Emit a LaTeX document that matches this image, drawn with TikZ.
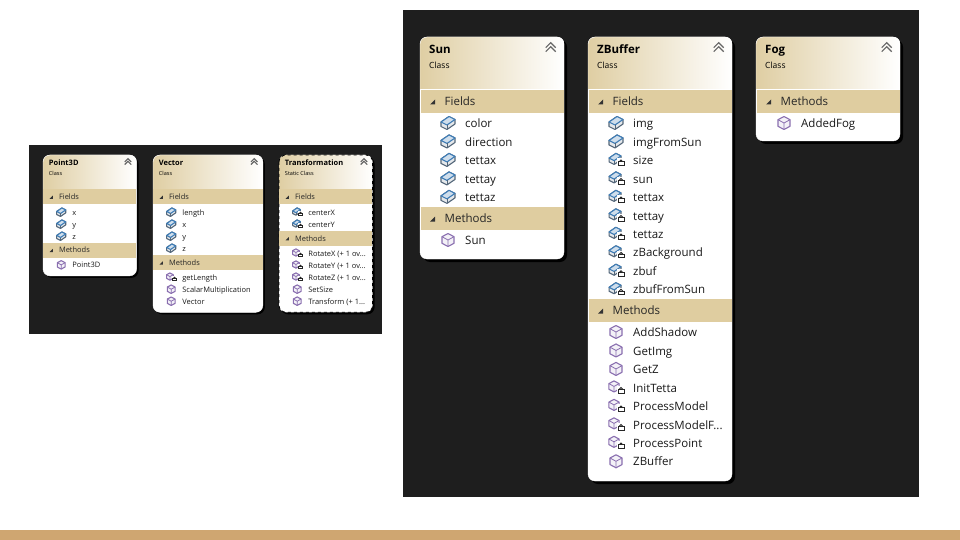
\documentclass[tikz,border=0pt]{standalone}
\usepackage{fontspec}
\setmainfont{Open Sans}
\usetikzlibrary{calc}

\definecolor{panelbg}{HTML}{1E1E1E}
\definecolor{bandtan}{HTML}{DFCDA0}
\definecolor{footbar}{HTML}{CFA671}
\definecolor{headtan}{HTML}{DFCEA3}
\definecolor{fieldblue}{HTML}{3E7CB5}
\definecolor{fieldgrey}{HTML}{54677A}
\definecolor{methpurple}{HTML}{8A6FB0}

\tikzset{
  rowtext/.style={anchor=west,inner sep=0pt,text height=9.5pt,text depth=1.5pt,font=\fontsize{11.5}{13}\selectfont,text=black!90},
  bandtext/.style={anchor=west,inner sep=0pt,text height=9.5pt,text depth=1.5pt,font=\fontsize{11.5}{13}\selectfont,text=black!85},
  titletext/.style={anchor=west,inner sep=0pt,text height=9.5pt,text depth=1.5pt,font=\fontsize{11.5}{13}\selectfont\bfseries},
  subtext/.style={anchor=west,inner sep=0pt,text height=6.5pt,text depth=1.5pt,font=\fontsize{8.5}{10}\selectfont},
  pics/lockmark/.style={code={
    \fill[white] (-0.8,-1) rectangle (7,7);
    \draw[black!85,line width=0.9pt] (1.2,2.4) arc (180:360:1.8);
    \draw[black!85,line width=1pt,fill=white] (0,2.4) rectangle (6,6.2);
  }},
  pics/fieldpub/.style={code={
    \draw[fieldgrey,line width=1.1pt,fill=fieldgrey!15,line join=round]
      (-7,-1) -- (1,-6.5) -- (7,-3.5) -- (7,1) -- (-1,6.5) -- (-7,3.5) -- cycle;
    \draw[fieldblue,line width=1.1pt,fill=fieldblue!25,line join=round]
      (-7,-1) -- (1,-6.5) -- (7,-3.5) -- (-1,2) -- cycle;
    \draw[fieldgrey,line width=0.8pt] (-1,2) -- (-1,6.5);
  }},
  pics/methpub/.style={code={
    \draw[methpurple,line width=1.1pt,fill=methpurple!10,line join=round]
      (0,-6.5) -- (6,-3.3) -- (6,3.3) -- (0,6.5) -- (-6,3.3) -- (-6,-3.3) -- cycle;
    \draw[methpurple,line width=0.8pt,line join=round] (-6,-3.3) -- (0,0) -- (6,-3.3) (0,0) -- (0,6.5);
  }},
  pics/fieldpriv/.style={code={
    \pic[shift={(-1,-1)},scale=0.85] {fieldpub};
    \pic at (2,-0.5) {lockmark};
  }},
  pics/methpriv/.style={code={
    \pic[shift={(-2,-1)},scale=0.85] {methpub};
    \pic at (2,-0.5) {lockmark};
  }},
}

% card body: width, height, header title, header subtitle, border style
\newcommand{\classcard}[5]{
  \fill[black,rounded corners=7pt] (3,3) rectangle (#1+3,#2+3);
  \fill[white,rounded corners=7pt] (0,0) rectangle (#1,#2);
  \begin{scope}
    \clip[rounded corners=7pt] (0,0) rectangle (#1,#2);
    \shade[left color=headtan,right color=white] (0,0) rectangle (#1,52);
  \end{scope}
  \draw[#5,rounded corners=7pt] (0,0) rectangle (#1,#2);
  \node[titletext] (title) at (9,12.7) {#3};
  \node[subtext] (kind) at (9,28.8) {#4};
  \draw[black!60,line width=1.1pt,line join=miter] ($(#1,0)+(-18.3,14.7)$) -- ++(5,-5) -- ++(5,5);
  \draw[black!60,line width=1.1pt,line join=miter] ($(#1,0)+(-18.3,10.7)$) -- ++(5,-5) -- ++(5,5);
}
% section band: width, top, text
\newcommand{\sectionband}[3]{
  \fill[bandtan] (0.5,#2) rectangle (#1-0.5,#2+23);
  \fill[black!80] (10,#2+14.5) -- (15,#2+14.5) -- (15,#2+9.5) -- cycle;
  \node[bandtext] (band#3) at (24.5,#2+11.7) {#3};
}
% list of rows: first y, then type/text pairs
\newcommand{\memberrows}[2]{
  \foreach \kind/\txt [count=\i from 0] in {#2} {
    \pic at (28,#1+18.47*\i) {\kind};
    \node[rowtext] (row#1-\i) at (45,#1+0.7+18.47*\i) {\txt};
  }
}

\begin{document}
\begin{tikzpicture}[x=1pt,y=-1pt]
  \useasboundingbox (0,0) rectangle (960,540);
  \fill[footbar] (0,530) rectangle (960,540);

  \fill[panelbg] (29,145) rectangle (382,334);
  \fill[panelbg] (403,10) rectangle (919,497);

  % small panel
  \begin{scope}[shift={(43,155)},scale=0.65,transform shape,name prefix=point-]
    \classcard{144}{186}{Point3D}{Class}{draw=white}
    \sectionband{144}{53}{Fields}
    \memberrows{88}{fieldpub/x,fieldpub/y,fieldpub/z}
    \sectionband{144}{135}{Methods}
    \memberrows{169}{methpub/Point3D}
  \end{scope}
  \begin{scope}[shift={(153,155)},scale=0.65,transform shape,name prefix=vector-]
    \classcard{169}{242}{Vector}{Class}{draw=white}
    \sectionband{169}{53}{Fields}
    \memberrows{88}{fieldpub/length,fieldpub/x,fieldpub/y,fieldpub/z}
    \sectionband{169}{154}{Methods}
    \memberrows{188}{methpriv/getLength,methpub/ScalarMultiplication,methpub/Vector}
  \end{scope}
  \begin{scope}[shift={(279,155)},scale=0.65,transform shape,name prefix=trans-]
    \classcard{144}{242}{Transformation}{Static Class}{draw=black,dashed,line width=0.8pt}
    \sectionband{144}{53}{Fields}
    \memberrows{88}{fieldpriv/centerX,fieldpriv/centerY}
    \sectionband{144}{117}{Methods}
    \memberrows{151}{methpriv/{RotateX (+ 1 ov...},methpriv/{RotateY (+ 1 ov...},methpriv/{RotateZ (+ 1 ov...},methpub/SetSize,methpub/{Transform (+ 1...}}
  \end{scope}

  % large panel
  \begin{scope}[shift={(420,37)},name prefix=sun-]
    \classcard{144}{222}{Sun}{Class}{draw=white}
    \sectionband{144}{53}{Fields}
    \memberrows{86}{fieldpub/color,fieldpub/direction,fieldpub/tettax,fieldpub/tettay,fieldpub/tettaz}
    \sectionband{144}{170}{Methods}
    \memberrows{203}{methpub/Sun}
  \end{scope}
  \begin{scope}[shift={(588,37)},name prefix=zbuffer-]
    \classcard{144}{444}{ZBuffer}{Class}{draw=white}
    \sectionband{144}{53}{Fields}
    \memberrows{86}{fieldpub/img,fieldpub/imgFromSun,fieldpriv/size,fieldpriv/sun,fieldpriv/tettax,fieldpriv/tettay,fieldpriv/tettaz,fieldpriv/zBackground,fieldpriv/zbuf,fieldpriv/zbufFromSun}
    \sectionband{144}{262}{Methods}
    \memberrows{295}{methpub/AddShadow,methpub/GetImg,methpub/GetZ,methpriv/InitTetta,methpriv/ProcessModel,methpriv/{ProcessModelF...},methpriv/ProcessPoint,methpub/ZBuffer}
  \end{scope}
  \begin{scope}[shift={(756,37)},name prefix=fog-]
    \classcard{144}{104}{Fog}{Class}{draw=white}
    \sectionband{144}{53}{Methods}
    \memberrows{86}{methpub/AddedFog}
  \end{scope}
\end{tikzpicture}
\end{document}
